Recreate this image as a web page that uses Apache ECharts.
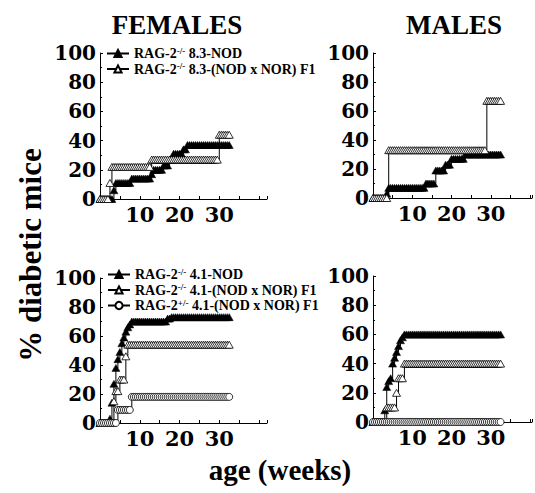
<!DOCTYPE html>
<html>
<head>
<meta charset="utf-8">
<script src="https://cdn.jsdelivr.net/npm/echarts@6/dist/echarts.min.js"></script>
<style>html,body{margin:0;padding:0;background:#fff}#c{width:535px;height:493px}</style>
</head>
<body>
<div id="c"></div>
<script>
// ---- data: age in weeks (twice-weekly readings), % diabetic mice ----
const weeks = [
  0,0.5,1,1.5,2,2.5,3,3.5,4,4.5,
  5,5.5,6,6.5,7,7.5,8,8.5,9,9.5,
  10,10.5,11,11.5,12,12.5,13,13.5,14,14.5,
  15,15.5,16,16.5,17,17.5,18,18.5,19,19.5,
  20,20.5,21,21.5,22,22.5,23,23.5,24,24.5,
  25,25.5,26,26.5,27,27.5,28,28.5,29,29.5,
  30,30.5,31,31.5,32,32.5
];
const xTickLabels = [10, 20, 30];
const yTickLabels = [0, 20, 40, 60, 80, 100];

// Females, 8.3 TCR
const fem83NOD = [
  0,0,0,0,0,0,0,6,11,11,
  11,11,11,11,11,11,14,14,14,14,
  14,14,14,14,14,14,17,20,20,20,
  20,20,23,23,23,27,27,31,31,31,
  31,31,34,34,37,37,37,37,37,37,
  37,37,37,37,37,37,37,37,37,37,
  37,37,37,37,37,37
];
const fem83F1 = [
  0,0,0,0,0,11,22,22,22,22,
  22,22,22,22,22,22,22,22,22,22,
  22,22,22,22,22,22,27,27,27,27,
  27,27,27,27,27,27,27,27,27,27,
  27,27,27,27,27,27,27,27,27,27,
  27,27,27,27,27,27,27,27,27,27,
  44,44,44,44,44,44
];
// Males, 8.3 TCR
const mal83NOD = [
  0,0,0,0,0,0,0,3,7,7,
  7,7,7,7,7,7,7,7,7,7,
  7,7,7,7,7,7,7,10,10,10,
  10,10,19,19,19,19,19,23,23,23,
  27,27,27,27,27,27,27,30,30,30,
  30,30,30,30,30,30,30,30,30,30,
  30,30,30,30,30,30
];
const mal83F1 = [
  0,0,0,0,0,0,0,0,33,33,
  33,33,33,33,33,33,33,33,33,33,
  33,33,33,33,33,33,33,33,33,33,
  33,33,33,33,33,33,33,33,33,33,
  33,33,33,33,33,33,33,33,33,33,
  33,33,33,33,33,33,33,33,67,67,
  67,67,67,67,67,67
];
// Females, 4.1 TCR
const fem41NOD = [
  0,0,0,0,0,3,14,27,38,44,
  49,55,59,63,66,68,70,70,70,70,
  70,70,70,70,70,70,70,70,70,70,
  70,70,70,70,72,72,73,73,73,73,
  73,73,73,73,73,73,73,73,73,73,
  73,73,73,73,73,73,73,73,73,73,
  73,73,73,73,73,73
];
const fem41F1 = [
  0,0,0,0,0,0,0,15,22,22,
  30,30,30,46,54,54,54,54,54,54,
  54,54,54,54,54,54,54,54,54,54,
  54,54,54,54,54,54,54,54,54,54,
  54,54,54,54,54,54,54,54,54,54,
  54,54,54,54,54,54,54,54,54,54,
  54,54,54,54,54,54
];
const fem41Het = [
  0,0,0,0,0,0,0,0,0,9,
  9,9,9,9,9,9,18,18,18,18,
  18,18,18,18,18,18,18,18,18,18,
  18,18,18,18,18,18,18,18,18,18,
  18,18,18,18,18,18,18,18,18,18,
  18,18,18,18,18,18,18,18,18,18,
  18,18,18,18,18,18
];
// Males, 4.1 TCR
const mal41NOD = [
  0,0,0,0,0,0,8,24,28,30,
  40,44,48,52,56,58,60,60,60,60,
  60,60,60,60,60,60,60,60,60,60,
  60,60,60,60,60,60,60,60,60,60,
  60,60,60,60,60,60,60,60,60,60,
  60,60,60,60,60,60,60,60,60,60,
  60,60,60,60,60,60
];
const mal41F1 = [
  0,0,0,0,0,0,0,10,10,10,
  10,10,20,30,30,30,40,40,40,40,
  40,40,40,40,40,40,40,40,40,40,
  40,40,40,40,40,40,40,40,40,40,
  40,40,40,40,40,40,40,40,40,40,
  40,40,40,40,40,40,40,40,40,40,
  40,40,40,40,40,40
];
const mal41Het = [
  0,0,0,0,0,0,0,0,0,0,
  0,0,0,0,0,0,0,0,0,0,
  0,0,0,0,0,0,0,0,0,0,
  0,0,0,0,0,0,0,0,0,0,
  0,0,0,0,0,0,0,0,0,0,
  0,0,0,0,0,0,0,0,0,0,
  0,0,0,0,0,0
];

const names = {
  n83: 'RAG-2-/- 8.3-NOD',
  f83: 'RAG-2-/- 8.3-(NOD x NOR) F1',
  n41: 'RAG-2-/- 4.1-NOD',
  f41: 'RAG-2-/- 4.1-(NOD x NOR) F1',
  h41: 'RAG-2+/- 4.1-(NOD x NOR) F1'
};
const richNames = {};
richNames[names.n83] = '{a|RAG-2}{s|-/-}{a| 8.3-NOD}';
richNames[names.f83] = '{a|RAG-2}{s|-/-}{a| 8.3-(NOD x NOR) F1}';
richNames[names.n41] = '{a|RAG-2}{s|-/-}{a| 4.1-NOD}';
richNames[names.f41] = '{a|RAG-2}{s|-/-}{a| 4.1-(NOD x NOR) F1}';
richNames[names.h41] = '{a|RAG-2}{s|+/-}{a| 4.1-(NOD x NOR) F1}';

const SERIF = "'Liberation Serif','Times New Roman',serif";
const TICKFONT = "'DejaVu Serif','Liberation Serif',serif";

function pairs(vals){ return weeks.map((w,i)=>[w, vals[i]]); }

const grids = [
  {left:100, top:53, width:167, height:146},
  {left:373, top:53, width:162, height:145},
  {left:100, top:278, width:167, height:145},
  {left:373, top:276, width:162, height:146}
];
const xMax = [42, 40.5, 42, 40.5];

const xAxes = grids.map((g,i)=>({
  type:'value', gridIndex:i, min:0, max:xMax[i], interval:5,
  axisLine:{show:true, onZero:false, lineStyle:{color:'#000', width:1}},
  axisTick:{show:true, inside:true, length:3, lineStyle:{color:'#000'}},
  splitLine:{show:false},
  axisLabel:{
    margin:6, color:'#000', fontFamily:TICKFONT, fontWeight:'bold', fontSize:21, lineHeight:18,
    formatter: v => xTickLabels.indexOf(v) >= 0 ? String(v) : ''
  }
}));
const yAxes = grids.map((g,i)=>({
  type:'value', gridIndex:i, min:0, max:100, interval:20,
  axisLine:{show:true, lineStyle:{color:'#000', width:1}},
  axisTick:{show:true, inside:true, length:3, lineStyle:{color:'#000'}},
  minorTick:{show:true, splitNumber:2, length:2, lineStyle:{color:'#000'}},
  splitLine:{show:false},
  axisLabel:{
    margin:4, color:'#000', fontFamily:TICKFONT, fontWeight:'bold', fontSize:20,
    formatter: v => yTickLabels.indexOf(v) >= 0 ? String(v) : ''
  }
}));

function ser(name, vals, gi, kind){
  const s = {
    name: name, type:'line', xAxisIndex:gi, yAxisIndex:gi,
    data: pairs(vals), step:'end', animation:false,
    lineStyle:{color:'#000', width:1},
    emphasis:{disabled:true}
  };
  if (kind === 'black') {
    s.symbol = 'triangle'; s.symbolSize = [8,7];
    s.itemStyle = {color:'#000', borderColor:'#000', borderWidth:0.5};
  } else if (kind === 'white') {
    s.symbol = 'triangle'; s.symbolSize = [8,7];
    s.itemStyle = {color:'#fff', borderColor:'#000', borderWidth:0.8};
  } else {
    s.symbol = 'circle'; s.symbolSize = 7;
    s.itemStyle = {color:'#fff', borderColor:'#000', borderWidth:0.8};
  }
  return s;
}

const series = [
  ser(names.n83, fem83NOD, 0, 'black'),
  ser(names.f83, fem83F1, 0, 'white'),
  ser(names.n83, mal83NOD, 1, 'black'),
  ser(names.f83, mal83F1, 1, 'white'),
  ser(names.n41, fem41NOD, 2, 'black'),
  ser(names.f41, fem41F1, 2, 'white'),
  ser(names.h41, fem41Het, 2, 'circle'),
  ser(names.n41, mal41NOD, 3, 'black'),
  ser(names.f41, mal41F1, 3, 'white'),
  ser(names.h41, mal41Het, 3, 'circle')
];

const legendText = {
  color:'#000', fontFamily:SERIF, fontWeight:'bold', fontSize:14, lineHeight:15,
  rich:{
    a:{fontFamily:SERIF, fontWeight:'bold', fontSize:14, lineHeight:15, color:'#000'},
    s:{fontFamily:SERIF, fontWeight:'bold', fontSize:9, lineHeight:7, verticalAlign:'top', color:'#000'}
  }
};
const legends = [
  {orient:'vertical', left:101, top:41, itemWidth:22, itemHeight:9, itemGap:0.5,
   data:[names.n83, names.f83], textStyle:legendText, formatter:n=>richNames[n],
   selectedMode:false},
  {orient:'vertical', left:102, top:262, itemWidth:22, itemHeight:9, itemGap:0.5,
   data:[names.n41, names.f41, names.h41], textStyle:legendText, formatter:n=>richNames[n],
   selectedMode:false}
];

const titleStyle = {fill:'#000', fontFamily:SERIF, fontWeight:'bold', align:'center', verticalAlign:'middle'};
const graphic = [
  {type:'text', style:Object.assign({text:'FEMALES', fontSize:27}, titleStyle), position:[177,25]},
  {type:'text', style:Object.assign({text:'MALES', fontSize:27}, titleStyle), position:[454,25]},
  {type:'text', style:Object.assign({text:'% diabetic mice', fontSize:31}, titleStyle), position:[30,255], rotation:Math.PI/2},
  {type:'text', style:Object.assign({text:'age (weeks)', fontSize:29}, titleStyle), position:[280,470]}
];

const chart = echarts.init(document.getElementById('c'), null, {renderer:'svg'});
chart.setOption({
  backgroundColor:'#fff',
  animation:false,
  grid: grids,
  xAxis: xAxes,
  yAxis: yAxes,
  legend: legends,
  series: series,
  graphic: graphic
});
</script>
</body>
</html>
